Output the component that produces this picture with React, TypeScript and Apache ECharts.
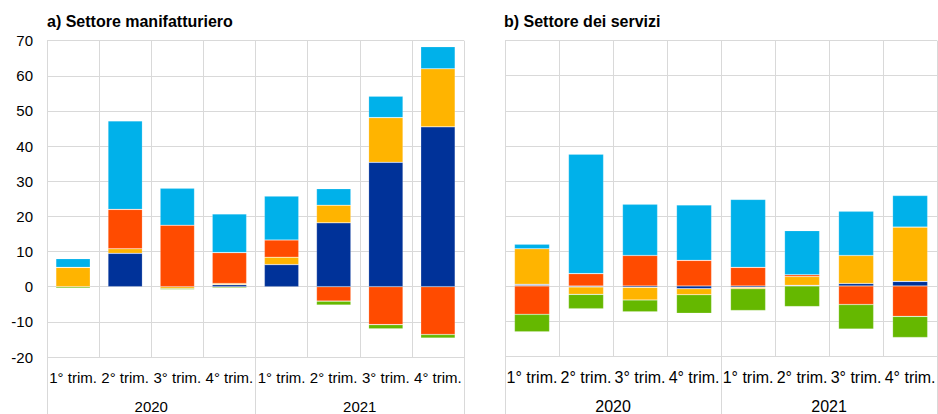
import React, { useEffect, useRef } from "react";
import * as echarts from "echarts";

const quarters = ["1° trim.", "2° trim.", "3° trim.", "4° trim.", "1° trim.", "2° trim.", "3° trim.", "4° trim."];
const years = ["2020", "2021"];
const yTicks = { min: -20, max: 70, interval: 10 };

const titleManuf = "a) Settore manifatturiero";
const titleServ = "b) Settore dei servizi";

// Manufacturing components
const darkBlueM = [0, 9.5, 0, 0.6, 6.3, 18.2, 35.4, 45.5];
const greyM = [0, 0, 0, 0, 0, 0, 0, 0];
const yellowM = [5.5, 1.3, -0.5, 0.3, 2.1, 5.0, 12.7, 16.5];
const orangeM = [0, 11.2, 17.5, 8.8, 4.9, -4.1, -10.8, -13.6];
const lightBlueM = [2.5, 25.2, 10.5, 11.0, 12.5, 4.7, 6.1, 6.3];
const greenM = [-0.4, -0.2, -0.3, -0.3, 0, -1.1, -1.2, -1.0];

// Services components
const darkBlueS = [0, 0, -0.4, -0.8, -0.4, 0, 0.7, 1.3];
const greyS = [0.5, -0.3, 0, 0, 0, 0.2, 0, 0];
const yellowS = [10.1, -2.1, -3.6, -1.7, -0.4, 2.5, 8.0, 15.5];
const orangeS = [-8.1, 3.5, 8.7, 7.3, 5.3, 0.5, -5.3, -8.7];
const lightBlueS = [1.3, 34.1, 14.6, 15.8, 19.4, 12.6, 12.6, 9.0];
const greenS = [-5.0, -4.1, -3.4, -5.3, -6.2, -5.9, -7.0, -6.0];

const COLORS = {
  darkBlue: "#003299",
  grey: "#9EA3C1",
  yellow: "#FFB400",
  orange: "#FF4B00",
  lightBlue: "#00B1EA",
  green: "#65B800",
};

const FONT = '"Liberation Sans", Arial, sans-serif';
const GRID_COLOR = "#D9D9D9";

export default function App() {
  const ref = useRef<HTMLDivElement>(null);

  useEffect(() => {
    if (!ref.current) return;
    const chart = echarts.init(ref.current, undefined, { renderer: "svg" });

    const mkSeries = (grid: number, name: string, color: string, data: number[], barWidth: string) => ({
      type: "bar",
      name,
      stack: "s" + grid,
      xAxisIndex: grid * 2,
      yAxisIndex: grid,
      data,
      barWidth,
      itemStyle: { color, borderColor: "rgba(255,255,255,0.3)", borderWidth: 0.6 },
    });

    const manuf = [
      ["darkBlue", darkBlueM],
      ["grey", greyM],
      ["yellow", yellowM],
      ["orange", orangeM],
      ["lightBlue", lightBlueM],
      ["green", greenM],
    ] as [keyof typeof COLORS, number[]][];
    const serv = [
      ["darkBlue", darkBlueS],
      ["grey", greyS],
      ["yellow", yellowS],
      ["orange", orangeS],
      ["lightBlue", lightBlueS],
      ["green", greenS],
    ] as [keyof typeof COLORS, number[]][];

    const quarterAxis = (gridIndex: number, fontSize: number) => ({
      type: "category",
      gridIndex,
      data: quarters,
      position: "bottom",
      axisLine: { show: false, onZero: false },
      axisTick: { show: false },
      axisLabel: { interval: 0, fontSize, color: "#000", fontFamily: FONT, margin: 13 },
      splitLine: { show: true, interval: 0, lineStyle: { color: GRID_COLOR, width: 1 } },
    });
    const yearAxis = (gridIndex: number, fontSize: number) => ({
      type: "category",
      gridIndex,
      data: years,
      position: "bottom",
      axisLine: { show: false, onZero: false },
      axisTick: { show: true, interval: 0, length: 60, lineStyle: { color: GRID_COLOR, width: 1 } },
      axisLabel: { interval: 0, fontSize, color: "#000", fontFamily: FONT, margin: 42 },
      splitLine: { show: false },
    });
    const valueAxis = (gridIndex: number, showLabels: boolean) => ({
      type: "value",
      gridIndex,
      min: yTicks.min,
      max: yTicks.max,
      interval: yTicks.interval,
      axisLine: { show: true, lineStyle: { color: GRID_COLOR, width: 1 } },
      axisTick: { show: false },
      axisLabel: { show: showLabels, fontSize: 15, color: "#000", fontFamily: FONT, margin: 14 },
      splitLine: { show: true, lineStyle: { color: GRID_COLOR, width: 1 } },
    });

    chart.setOption({
      animation: false,
      title: [
        {
          text: titleManuf,
          left: 47,
          top: 13,
          padding: 0,
          textStyle: { fontSize: 16, fontWeight: "bold", color: "#000", fontFamily: FONT },
        },
        {
          text: titleServ,
          left: 504,
          top: 13,
          padding: 0,
          textStyle: { fontSize: 16, fontWeight: "bold", color: "#000", fontFamily: FONT },
        },
      ],
      grid: [
        { left: 47, right: 474, top: 40.7, bottom: 56, containLabel: false },
        { left: 505, right: -7.7, top: 40.7, bottom: 56, containLabel: false },
      ],
      xAxis: [quarterAxis(0, 15), yearAxis(0, 15), quarterAxis(1, 16), yearAxis(1, 16)],
      yAxis: [valueAxis(0, true), valueAxis(1, false)],
      series: [
        ...manuf.map(([k, d]) => mkSeries(0, k + "M", COLORS[k], d, "66%")),
        ...serv.map(([k, d]) => mkSeries(1, k + "S", COLORS[k], d, "65%")),
      ],
    });

    return () => chart.dispose();
  }, []);

  return (
    <div
      ref={ref}
      style={{ position: "fixed", left: 0, top: 0, width: 938, height: 414, background: "#fff" }}
    />
  );
}
